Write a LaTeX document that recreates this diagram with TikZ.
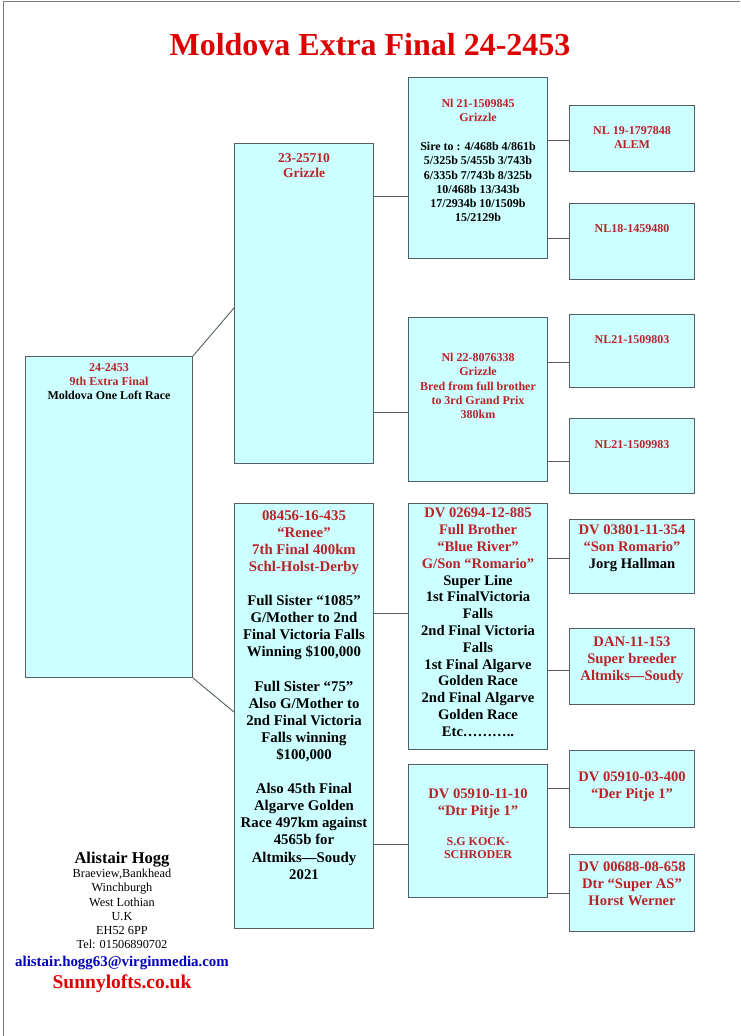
\documentclass[tikz,border=0pt]{standalone}
\usepackage{fontspec}
\setmainfont{Liberation Serif}
\usepackage{xcolor}
\usetikzlibrary{positioning}
\definecolor{cyanbox}{RGB}{204,255,255}
\definecolor{greyline}{RGB}{82,94,100}
\definecolor{pedred}{RGB}{185,35,40}
\definecolor{titlered}{RGB}{222,0,0}
\definecolor{mailblue}{RGB}{0,0,190}

\begin{document}
\begin{tikzpicture}[
  x=1pt, y=-1pt,
  bird/.style = {
    rectangle, draw=greyline, fill=cyanbox, line width=1pt,
    inner sep=0pt, anchor=north west
  },
  col1/.style = {bird, minimum width=167pt},
  col2/.style = {bird, minimum width=139pt},
  col4/.style = {bird, minimum width=125pt},
  txt/.style  = {anchor=north, inner sep=0pt, align=center, text=pedred},
  sml/.style  = {txt, font=\bfseries\fontsize{12}{14.3}\selectfont},
  mid/.style  = {txt, font=\bfseries\fontsize{13.5}{15}\selectfont},
  big/.style  = {txt, font=\bfseries\fontsize{14.6}{16.8}\selectfont},
  link/.style = {draw=greyline, line width=0.9pt}
]
\useasboundingbox (0,0) rectangle (740,1036);

% Marco y titulo
\draw[greyline!80, line width=1pt] (3.5,1036) -- (3.5,1.5) -- (740,1.5);
\node[anchor=north, inner sep=0pt, text=titlered,
      font=\bfseries\fontsize{32}{36}\selectfont] (title) at (370,33)
      {Moldova Extra Final 24-2453};

% Cajas: generaciones 1 a 3
\node[col1, minimum height=321pt] (root) at (25,356)  {};
\node[col2, minimum height=320pt] (sire) at (234,143) {};
\node[col2, minimum height=425pt] (dam)  at (234,503) {};
\node[col2, minimum height=181pt] (ss)   at (408,77)  {};
\node[col2, minimum height=164pt] (sd)   at (408,317) {};
\node[col2, minimum height=246pt] (ds)   at (408,503) {};
\node[col2, minimum height=133pt] (dd)   at (408,764) {};

% Cajas: generacion 4
\node[col4, minimum height=66pt] (sss) at (569,105) {};
\node[col4, minimum height=76pt] (ssd) at (569,203) {};
\node[col4, minimum height=73pt] (sds) at (569,314) {};
\node[col4, minimum height=75pt] (sdd) at (569,418) {};
\node[col4, minimum height=74pt] (dss) at (569,519) {};
\node[col4, minimum height=76pt] (dsd) at (569,628) {};
\node[col4, minimum height=77pt] (dds) at (569,750) {};
\node[col4, minimum height=77pt] (ddd) at (569,854) {};

% Textos
\node[sml, below=7pt of root.north] (rootT)
  {24-2453\\9th Extra Final\\\textcolor{black}{Moldova One Loft Race}};
\node[mid, below=10pt of sire.north] (sireT) {23-25710\\Grizzle};
\node[sml, below=22pt of ss.north] (ssT)
  {Nl 21-1509845\\Grizzle\\[14.3pt]
   \textcolor{black}{Sire to : 4/468b 4/861b}\\
   \textcolor{black}{5/325b 5/455b 3/743b}\\
   \textcolor{black}{6/335b 7/743b 8/325b}\\
   \textcolor{black}{10/468b 13/343b}\\
   \textcolor{black}{17/2934b 10/1509b}\\
   \textcolor{black}{15/2129b}};
\node[sml, below=36pt of sd.north] (sdT)
  {Nl 22-8076338\\Grizzle\\Bred from full brother\\to 3rd Grand Prix\\380km};
\node[sml, below=21pt of sss.north] (sssT) {NL 19-1797848\\ALEM};
\node[sml, below=21pt of ssd.north] (ssdT) {NL18-1459480};
\node[sml, below=21pt of sds.north] (sdsT) {NL21-1509803};
\node[sml, below=22pt of sdd.north] (sddT) {NL21-1509983};

\node[txt, font=\bfseries\fontsize{14.8}{17.1}\selectfont,
      below=7pt of dam.north] (damT)
  {08456-16-435\\“Renee”\\7th Final 400km\\Schl-Holst-Derby\\[17.1pt]
   \textcolor{black}{Full Sister “1085”}\\
   \textcolor{black}{G/Mother to 2nd}\\
   \textcolor{black}{Final Victoria Falls}\\
   \textcolor{black}{Winning \$100,000}\\[17.1pt]
   \textcolor{black}{Full Sister “75”}\\
   \textcolor{black}{Also G/Mother to}\\
   \textcolor{black}{2nd Final Victoria}\\
   \textcolor{black}{Falls winning}\\
   \textcolor{black}{\$100,000}\\[17.1pt]
   \textcolor{black}{Also 45th Final}\\
   \textcolor{black}{Algarve Golden}\\
   \textcolor{black}{Race 497km against}\\
   \textcolor{black}{4565b for}\\
   \textcolor{black}{Altmiks—Soudy}\\
   \textcolor{black}{2021}};
\node[big, below=5pt of ds.north] (dsT)
  {DV 02694-12-885\\Full Brother\\“Blue River”\\G/Son “Romario”\\
   \textcolor{black}{Super Line}\\
   \textcolor{black}{1st FinalVictoria}\\
   \textcolor{black}{Falls}\\
   \textcolor{black}{2nd Final Victoria}\\
   \textcolor{black}{Falls}\\
   \textcolor{black}{1st Final Algarve}\\
   \textcolor{black}{Golden Race}\\
   \textcolor{black}{2nd Final Algarve}\\
   \textcolor{black}{Golden Race}\\
   \textcolor{black}{Etc………..}};
\node[big, below=25pt of dd.north] (ddT) {DV 05910-11-10\\“Dtr Pitje 1”};
\node[txt, font=\bfseries\fontsize{12}{13}\selectfont,
      below=73pt of dd.north] (ddN) {S.G KOCK-\\SCHRODER};
\node[big, below=6pt of dss.north] (dssT)
  {DV 03801-11-354\\“Son Romario”\\\textcolor{black}{Jorg Hallman}};
\node[big, below=9pt of dsd.north] (dsdT)
  {DAN-11-153\\Super breeder\\Altmiks—Soudy};
\node[big, below=22pt of dds.north] (ddsT) {DV 05910-03-400\\“Der Pitje 1”};
\node[big, below=8pt of ddd.north] (dddT)
  {DV 00688-08-658\\Dtr “Super AS”\\Horst Werner};

% Lineas de union
\draw[link] (root.north east) -- (sire.west |- 0,308);
\draw[link] (root.south east) -- (dam.west |- 0,712);
\draw[link] (sire.east |- 0,196) -- (ss.west |- 0,196);
\draw[link] (sire.east |- 0,412) -- (sd.west |- 0,412);
\draw[link] (ss.east |- 0,140) -- (sss.west |- 0,140);
\draw[link] (ss.east |- 0,238) -- (ssd.west |- 0,238);
\draw[link] (sd.east |- 0,362) -- (sds.west |- 0,362);
\draw[link] (sd.east |- 0,461) -- (sdd.west |- 0,461);
\draw[link] (dam.east |- 0,613) -- (ds.west |- 0,613);
\draw[link] (dam.east |- 0,844) -- (dd.west |- 0,844);
\draw[link] (ds.east |- 0,558) -- (dss.west |- 0,558);
\draw[link] (ds.east |- 0,670) -- (dsd.west |- 0,670);
\draw[link] (dd.east |- 0,788) -- (dds.west |- 0,788);
\draw[link] (dd.east |- 0,893) -- (ddd.west |- 0,893);

% Datos del criador
\node[anchor=north, inner sep=0pt,
      font=\bfseries\fontsize{16.5}{18}\selectfont] (owner) at (122,852)
      {Alistair Hogg};
\node[anchor=north, inner sep=0pt, align=center,
      font=\fontsize{12.3}{14.2}\selectfont] (addr) at (122,869)
      {Braeview,Bankhead\\Winchburgh\\West Lothian\\U.K\\EH52 6PP\\Tel: 01506890702};
\node[anchor=north, inner sep=0pt, text=mailblue,
      font=\bfseries\fontsize{14.9}{16}\selectfont] (mail) at (122,956)
      {alistair.hogg63@virginmedia.com};
\node[anchor=north, inner sep=0pt, text=titlered,
      font=\bfseries\fontsize{19.5}{21}\selectfont] (web) at (122,975)
      {Sunnylofts.co.uk};

\end{tikzpicture}
\end{document}
